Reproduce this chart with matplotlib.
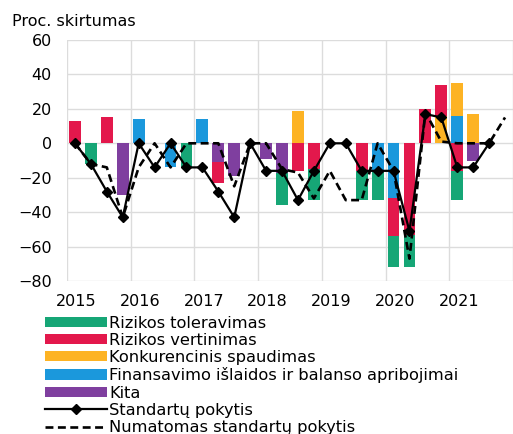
import numpy as np
import matplotlib
matplotlib.use("Agg")
import matplotlib.pyplot as plt
from matplotlib.patches import Patch
from matplotlib.lines import Line2D

# quarters 2015Q1 .. 2021Q4
years = ["2015", "2016", "2017", "2018", "2019", "2020", "2021"]
n_q = 28

# bar contributions, one entry per quarter
toleravimas = [0, -12, 0, 0, 0, 0, 0, -14, 0, 0, 0, 0, 0, -19, 0, -18, 0, 0, -17, -17, -18, -19, 0, 0, -17, 0, 0, 0]
vertinimas = [13, 0, 15, 0, 0, 0, 0, 0, 0, -12, 0, 0, 0, 0, -16, -15, 0, 0, -16, 0, -22, -53, 20, 18, -16, 0, 0, 0]
spaudimas = [0, 0, 0, 0, 0, 0, 0, 0, 0, 0, 0, 0, 0, 0, 19, 0, 0, 0, 0, 0, 0, 0, 0, 16, 19, 17, 0, 0]
finansavimas = [0, 0, 0, 0, 14, 0, -14, 0, 14, 0, 0, 0, 0, 0, 0, 0, 0, 0, 0, -16, -32, 0, 0, 0, 16, 0, 0, 0]
kita = [0, 0, 0, -30, 0, 0, 0, 0, 0, -11, -19, 0, -9, -17, 0, 0, 0, 0, 0, 0, 0, 0, 0, 0, 0, -10, 0, 0]

pokytis = [0, -12, -28, -43, 0, -14, 0, -14, -14, -28, -43, 0, -16, -16, -33, -16, 0, 0, -16, -16, -16, -51, 17, 15, -14, -14, 0, np.nan]
numatomas = [0, -12, -14, -43, -14, 0, -14, 0, 0, 0, -25, 0, 0, -15, -17, -32, -16, -33, -33, 0, -16, -67, 18, 1, 0, 0, 0, 15]

labels = ["Rizikos toleravimas", "Rizikos vertinimas", "Konkurencinis spaudimas",
          "Finansavimo išlaidos ir balanso apribojimai", "Kita",
          "Standartų pokytis", "Numatomas standartų pokytis"]
colors = ["#16a676", "#e3184c", "#fdb324", "#1b98dc", "#7f3f9f"]

plt.rcParams['font.family'] = ['DejaVu Sans']
fig = plt.figure(figsize=(5.13, 4.34), dpi=100)
ax = fig.add_axes([0.1306, 0.3525, 0.8694, 0.5553])

x = np.arange(n_q)
series = [toleravimas, vertinimas, spaudimas, finansavimas, kita]
# stacked from zero outward, last legend entry closest to zero
pos = np.zeros(n_q)
neg = np.zeros(n_q)
for vals, col in reversed(list(zip(series, colors))):
    v = np.array(vals, dtype=float)
    p = np.where(v > 0, v, 0)
    m = np.where(v < 0, v, 0)
    ax.bar(x, p, 0.74, bottom=pos, color=col, zorder=2)
    ax.bar(x, m, 0.74, bottom=neg, color=col, zorder=2)
    pos += p
    neg += m

ax.plot(x, numatomas, color="black", lw=1.9, ls=(0, (3, 1.7)), zorder=3)
ax.plot(x, pokytis, color="black", lw=1.6, marker="D", ms=5, zorder=4)

ax.set_ylim(-80, 60)
ax.set_yticks(range(-80, 61, 20))
ax.set_xlim(-0.5, 27.25)
ax.set_xticks(np.arange(-0.5, n_q, 4), minor=False)
ax.set_xticklabels([])
ax.set_xticks(np.arange(0, n_q, 4) + 0.1, minor=True)
ax.set_xticklabels(years, minor=True)
ax.grid(True, color="#dcdcdc", lw=1.0, zorder=0)
ax.set_axisbelow(True)
for s in ax.spines.values():
    s.set_visible(False)
ax.tick_params(axis="both", which="both", length=0, labelsize=11.5)
ax.tick_params(axis="y", pad=11)
ax.tick_params(axis="x", which="minor", pad=9)

fig.text(0.023, 0.94, "Proc. skirtumas", fontsize=11.5, va="baseline", ha="left")

handles = [Patch(facecolor=c, edgecolor="none") for c in colors]
handles.append(Line2D([], [], color="black", lw=1.6, marker="D", ms=5))
handles.append(Line2D([], [], color="black", lw=1.9, ls=(0, (3, 1.7))))
fig.legend(handles, labels, loc="upper left", bbox_to_anchor=(0.088, 0.273),
           frameon=False, fontsize=11.7, handlelength=3.8, handleheight=0.6,
           handletextpad=0.15, labelspacing=0.14, borderpad=0, borderaxespad=0,
           numpoints=1)

fig.savefig("out.png", dpi=100)
